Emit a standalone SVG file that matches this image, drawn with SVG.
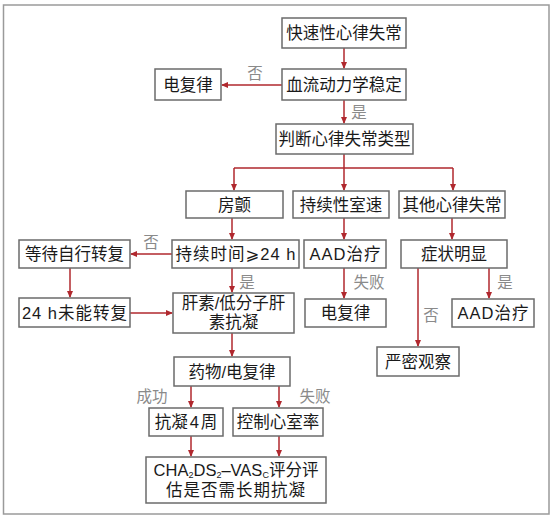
<svg xmlns="http://www.w3.org/2000/svg" width="554" height="519" viewBox="0 0 554 519">
<style>
.box{fill:#fff;stroke:#6b6b6b;stroke-width:1.5}
.t{font-family:"Liberation Sans","DejaVu Sans","Noto Sans CJK SC",sans-serif;font-size:16.5px;fill:#1a1a1a;text-anchor:middle}
.sp{letter-spacing:1px}
.lb{font-family:"Liberation Sans","Noto Sans CJK SC",sans-serif;font-size:15.5px;fill:#8a8a8a;text-anchor:middle}
.c{fill:none;stroke:#b0282e;stroke-width:1.5}
</style>
<defs>
<marker id="ah" markerWidth="7" markerHeight="6" refX="6" refY="3" orient="auto" markerUnits="userSpaceOnUse">
<path d="M0,0 L7,3 L0,6 z" fill="#b0282e"/>
</marker>
</defs>
<rect x="3.5" y="5" width="545.5" height="509" fill="#fff" stroke="#9a9a9a" stroke-width="1.5"/>
<g id="connectors">
<path class="c" d="M344,48 V68" marker-end="url(#ah)"/>
<path class="c" d="M282,85 H222" marker-end="url(#ah)"/>
<path class="c" d="M344,100 V123" marker-end="url(#ah)"/>
<path class="c" d="M344,154 V168 M234,168 H453"/>
<path class="c" d="M234,168 V190" marker-end="url(#ah)"/>
<path class="c" d="M344,168 V190" marker-end="url(#ah)"/>
<path class="c" d="M453,168 V190" marker-end="url(#ah)"/>
<path class="c" d="M232,218 V239" marker-end="url(#ah)"/>
<path class="c" d="M344,218 V239" marker-end="url(#ah)"/>
<path class="c" d="M452,218 V239" marker-end="url(#ah)"/>
<path class="c" d="M172,254 H131" marker-end="url(#ah)"/>
<path class="c" d="M232,268 V292" marker-end="url(#ah)"/>
<path class="c" d="M70,268 V297" marker-end="url(#ah)"/>
<path class="c" d="M130,313 H172" marker-end="url(#ah)"/>
<path class="c" d="M344,268 V298" marker-end="url(#ah)"/>
<path class="c" d="M489,268 V298" marker-end="url(#ah)"/>
<path class="c" d="M418,268 V346" marker-end="url(#ah)"/>
<path class="c" d="M232,333 V356" marker-end="url(#ah)"/>
<path class="c" d="M191,386 V407" marker-end="url(#ah)"/>
<path class="c" d="M279,386 V407" marker-end="url(#ah)"/>
<path class="c" d="M191,436 V456" marker-end="url(#ah)"/>
<path class="c" d="M279,436 V456" marker-end="url(#ah)"/>
</g>
<g id="labels">
<text class="lb" x="255" y="79">否</text>
<text class="lb" x="359" y="118">是</text>
<text class="lb" x="151" y="248">否</text>
<text class="lb" x="247" y="288">是</text>
<text class="lb" x="369" y="288">失败</text>
<text class="lb" x="505" y="288">是</text>
<text class="lb" x="431" y="321">否</text>
<text class="lb" x="152" y="402">成功</text>
<text class="lb" x="315" y="402">失败</text>
</g>
<g id="n1"><rect class="box" x="282" y="18" width="124" height="30"/><text class="t" x="344" y="39">快速性心律失常</text></g>
<g id="n2"><rect class="box" x="282" y="69" width="124" height="31"/><text class="t" x="344" y="90.5">血流动力学稳定</text></g>
<g id="n3"><rect class="box" x="155" y="69" width="66" height="31"/><text class="t" x="188" y="90.5">电复律</text></g>
<g id="n4"><rect class="box" x="276" y="124" width="137" height="30"/><text class="t" x="344.5" y="145">判断心律失常类型</text></g>
<g id="n5"><rect class="box" x="186" y="191" width="97" height="27"/><text class="t" x="234.5" y="210.5">房颤</text></g>
<g id="n6"><rect class="box" x="293" y="191" width="96" height="27"/><text class="t" x="341" y="210.5">持续性室速</text></g>
<g id="n7"><rect class="box" x="399" y="191" width="106" height="27"/><text class="t" x="452" y="210.5">其他心律失常</text></g>
<g id="n8"><rect class="box" x="19" y="240" width="111" height="28"/><text class="t" x="74.5" y="260">等待自行转复</text></g>
<g id="n9"><rect class="box" x="172" y="240" width="127" height="28"/><text class="t sp" x="236" y="260">持续时间⩾24 h</text></g>
<g id="n10"><rect class="box" x="304" y="240" width="82" height="28"/><text class="t sp" x="345.5" y="260">AAD治疗</text></g>
<g id="n11"><rect class="box" x="401" y="240" width="106" height="28"/><text class="t" x="454" y="260">症状明显</text></g>
<g id="n12"><rect class="box" x="19" y="298" width="111" height="29"/><text class="t sp" x="75" y="318.5">24 h未能转复</text></g>
<g id="n13"><rect class="box" x="173" y="293" width="121" height="40"/><text class="t" x="233.5" y="309">肝素/低分子肝</text><text class="t" x="233.5" y="328">素抗凝</text></g>
<g id="n14"><rect class="box" x="305" y="299" width="81" height="28"/><text class="t" x="345.5" y="319">电复律</text></g>
<g id="n15"><rect class="box" x="452" y="299" width="82" height="28"/><text class="t sp" x="493.5" y="319">AAD治疗</text></g>
<g id="n16"><rect class="box" x="377" y="347" width="82" height="29"/><text class="t" x="418" y="367.5">严密观察</text></g>
<g id="n17"><rect class="box" x="174" y="357" width="116" height="29"/><text class="t" x="232" y="377.5">药物/电复律</text></g>
<g id="n18"><rect class="box" x="149" y="408" width="74" height="28"/><text class="t" x="186" y="428">抗凝<tspan dx="2">4</tspan><tspan dx="2">周</tspan></text></g>
<g id="n19"><rect class="box" x="233" y="408" width="90" height="28"/><text class="t" x="278" y="428">控制心室率</text></g>
<g id="n20"><rect class="box" x="146" y="457" width="180" height="46"/><text class="t" x="236" y="476">CHA<tspan font-size="9" dy="2">2</tspan><tspan dy="-2">DS</tspan><tspan font-size="9" dy="2">2</tspan><tspan dy="-2">–VAS</tspan><tspan font-size="9" dy="2">C</tspan><tspan dy="-2">评分评</tspan></text><text class="t sp" x="236" y="496">估是否需长期抗凝</text></g>
</svg>
